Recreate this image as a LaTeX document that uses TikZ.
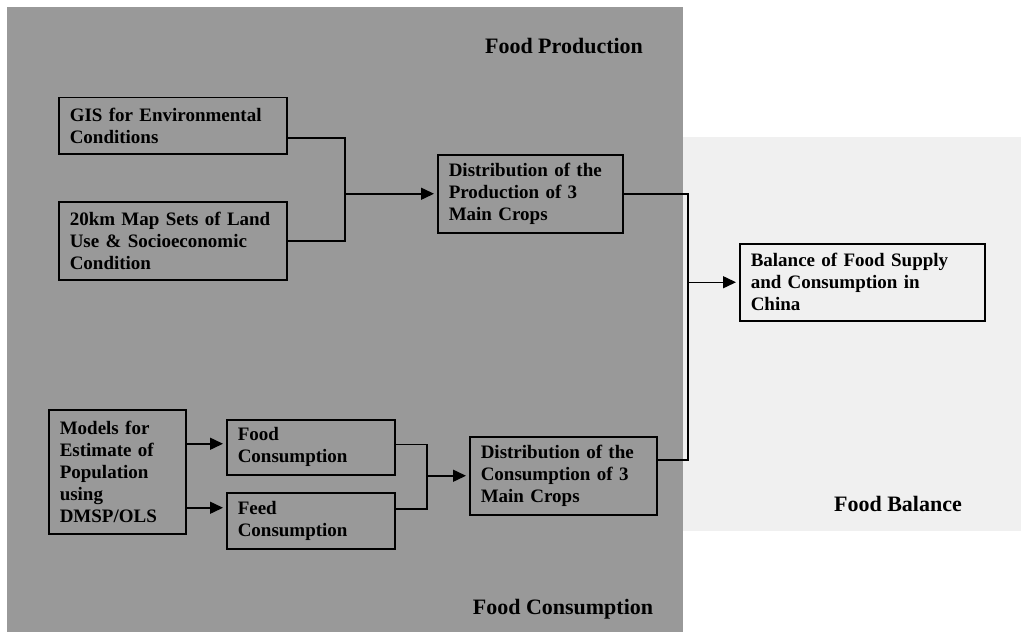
\documentclass[tikz,border=0pt]{standalone}
\usepackage{fontspec}
\setmainfont{Liberation Serif}
\usetikzlibrary{arrows.meta,positioning,calc}
\tikzstyle{flow-box} = [draw=black, line width=1.5pt, anchor=north west,
    align=left, inner xsep=11pt, inner ysep=0pt,
    font=\bfseries\fontsize{19}{22}\selectfont]
\tikzstyle{zone-label} = [anchor=base, font=\bfseries\fontsize{22}{26}\selectfont]
\tikzstyle{link} = [line width=1.5pt]
\tikzstyle{link-arrow} = [link, -{Triangle[length=13pt,width=12pt]}, shorten >=3pt]

\begin{document}
\begin{tikzpicture}[x=1pt,y=-1pt]
\useasboundingbox (0,0) rectangle (1021,634);
\fill[black!40] (7,7) rectangle (683,632);
\fill[black!6] (683,137) rectangle (1021,531);

\node[flow-box, text width=206pt, minimum height=56pt] (gis) at (58,97) {GIS for Environmental\\Conditions};
\node[flow-box, text width=206pt, minimum height=78pt] (map) at (58,201) {20km Map Sets of Land\\Use \& Socioeconomic\\Condition};
\node[flow-box, text width=163pt, minimum height=78pt] (prod) at (437,154) {Distribution of the\\Production of 3\\Main Crops};
\node[flow-box, text width=115pt, minimum height=124pt] (models) at (48,409) {Models for\\Estimate of\\Population\\using\\DMSP/OLS};
\node[flow-box, text width=146pt, minimum height=55pt] (foodc) at (226,419) {Food\\Consumption};
\node[flow-box, text width=146pt, minimum height=56pt] (feedc) at (226,492) {Feed\\Consumption};
\node[flow-box, text width=165pt, minimum height=78pt] (cons) at (469,436) {Distribution of the\\Consumption of 3\\Main Crops};
\node[flow-box, text width=223pt, minimum height=77pt] (bal) at (739,243) {Balance of Food Supply\\and Consumption in\\China};

\node[zone-label] (prodlabel) at (564,54) {Food Production};
\node[zone-label] (conslabel) at (563,614) {Food Consumption};
\node[zone-label] (ballabel) at (898,511) {Food Balance};

\coordinate (jp) at ([xshift=-92pt]prod.west);
\draw[link] ([yshift=-12pt]gis.east) -| (jp);
\draw[link] (map.east) -| (jp);
\draw[link-arrow] (jp) -- (prod.west);

\coordinate (mf) at ([yshift=28pt]models.east);
\coordinate (mg) at ([yshift=-36pt]models.east);
\draw[link-arrow] (mf) -- (mf -| foodc.west);
\draw[link-arrow] (mg) -- (mg -| feedc.west);

\coordinate (jc) at ([xshift=-42pt]cons.west);
\draw[link] ([yshift=3pt]foodc.east) -| (jc);
\draw[link] ([yshift=12pt]feedc.east) -| (jc);
\draw[link-arrow] (jc) -- (cons.west);

\coordinate (jb) at ([xshift=-51pt]bal.west);
\draw[link] (prod.east) -| (jb);
\draw[link] ([yshift=16pt]cons.east) -| (jb);
\draw[link-arrow] (jb) -- (bal.west);
\end{tikzpicture}
\end{document}
